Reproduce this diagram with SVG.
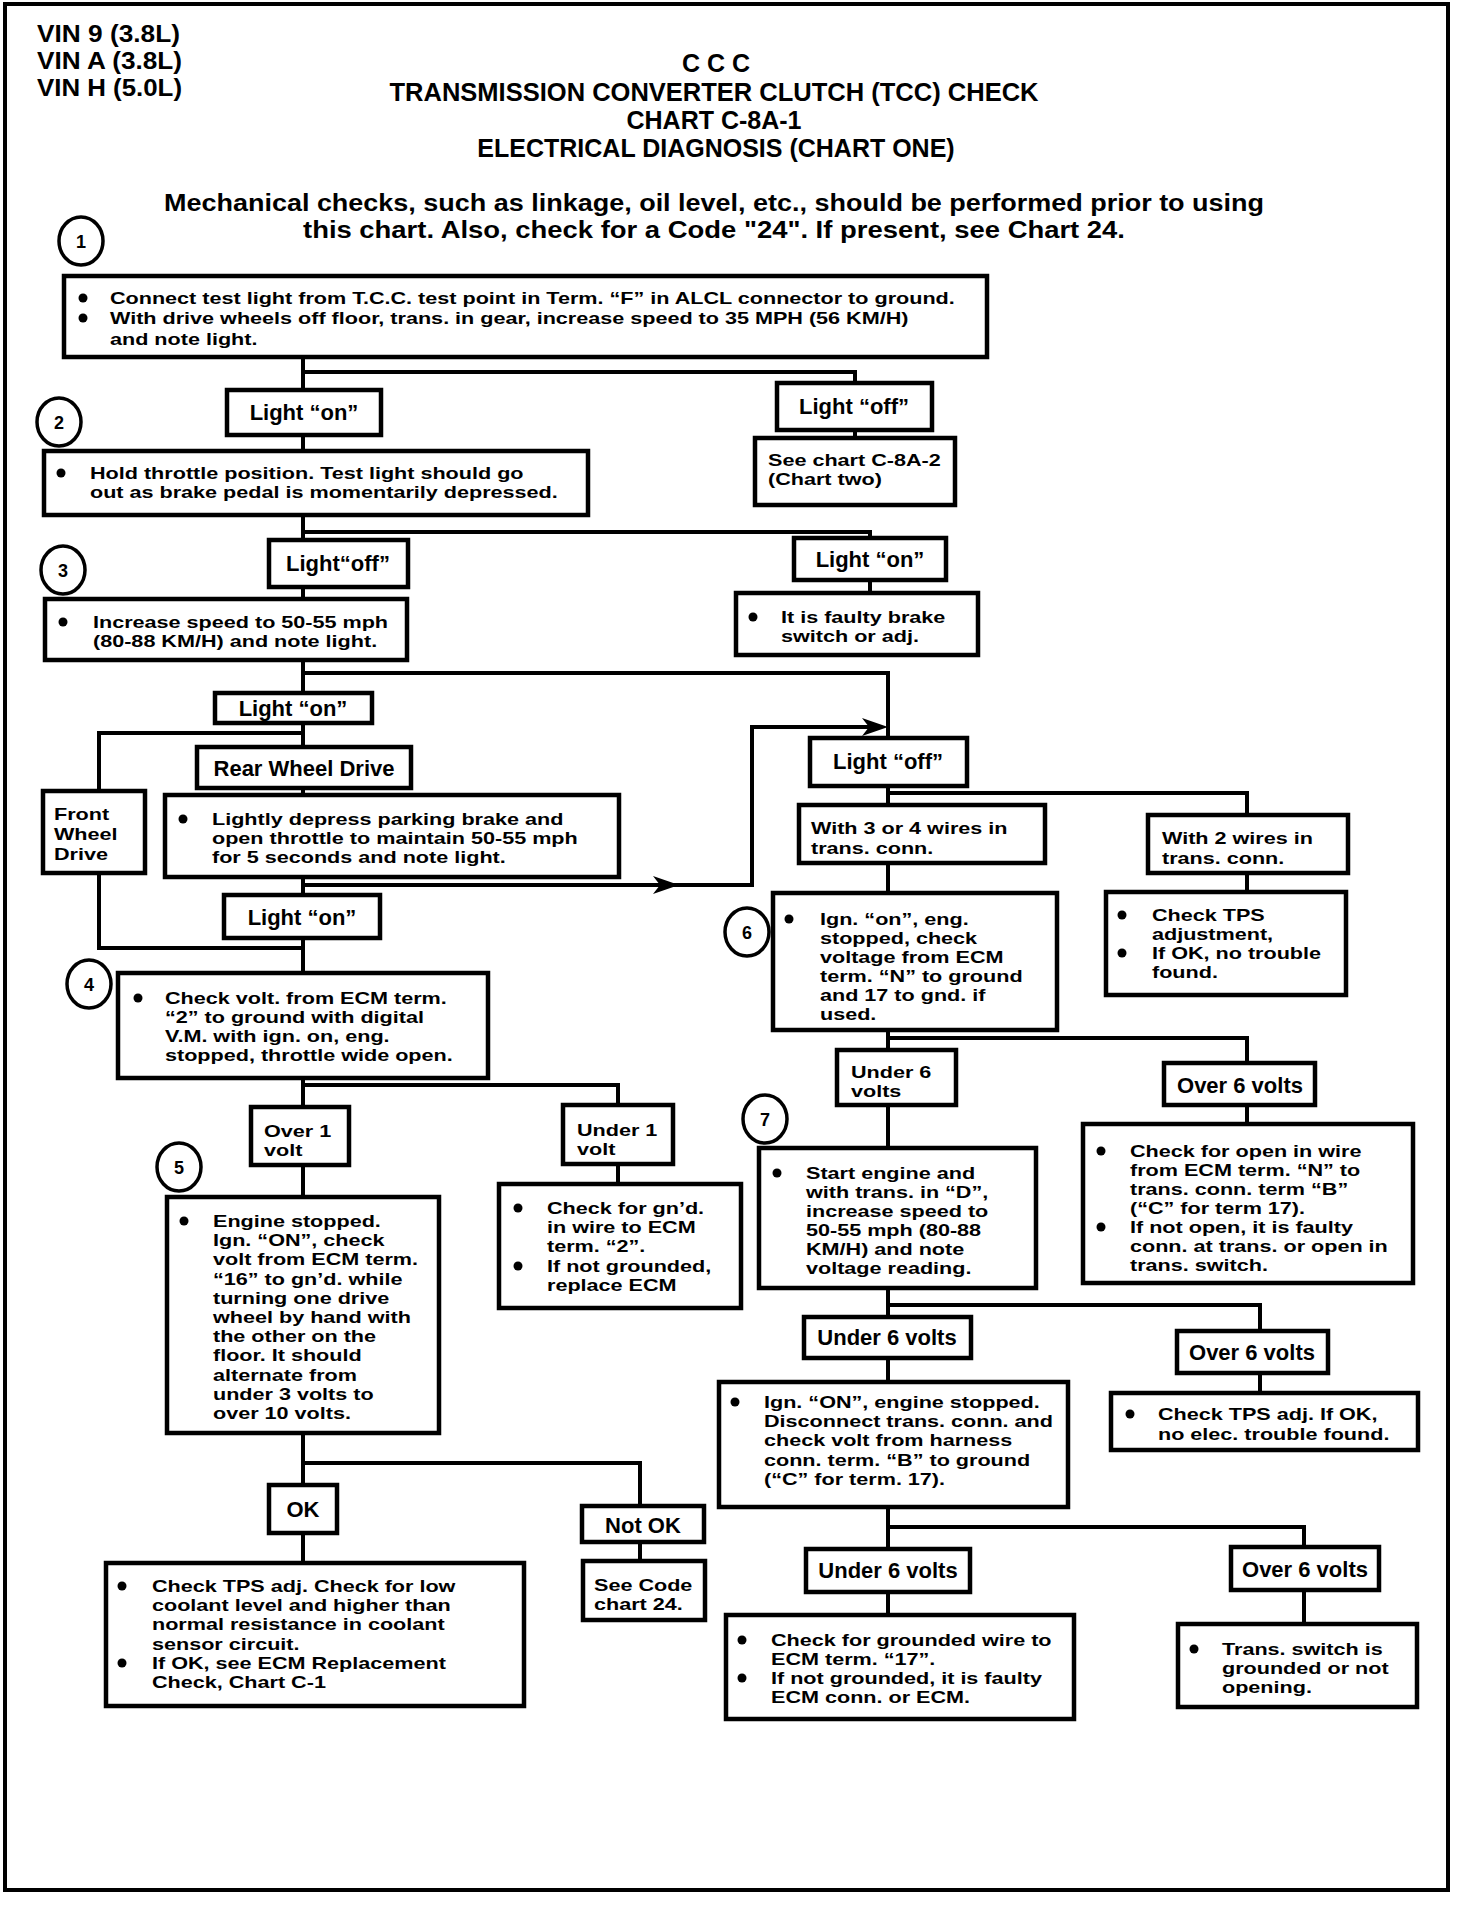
<svg xmlns="http://www.w3.org/2000/svg" width="1472" height="1914" viewBox="0 0 1472 1914">
<style>
.bg{fill:#fff}
.frame{fill:none;stroke:#000;stroke-width:4}
.box{fill:#fff;stroke:#000;stroke-width:4.5}
.ln{fill:none;stroke:#000;stroke-width:4}
.circ{fill:#fff;stroke:#000;stroke-width:3.5}
.t{font-family:"Liberation Sans",Arial,sans-serif;font-weight:bold;font-size:17px;fill:#000}
.lb{font-family:"Liberation Sans",Arial,sans-serif;font-weight:bold;font-size:22px;fill:#000;text-anchor:middle}
.h{font-family:"Liberation Sans",Arial,sans-serif;font-weight:bold;font-size:25px;fill:#000}
.v{font-family:"Liberation Sans",Arial,sans-serif;font-weight:bold;font-size:23.5px;fill:#000}
.c{text-anchor:middle}
.m{font-family:"Liberation Sans",Arial,sans-serif;font-weight:bold;font-size:23px;fill:#000;text-anchor:middle}
.n{font-family:"Liberation Sans",Arial,sans-serif;font-weight:bold;font-size:18px;fill:#000;text-anchor:middle}
.b{fill:#000}
</style>
<defs>
<marker id="arr" markerUnits="userSpaceOnUse" viewBox="0 0 26 18" markerWidth="26" markerHeight="18" refX="16" refY="9" orient="auto">
<path d="M0,0 L26,9 L0,18 L7,9 Z" fill="#000"/>
</marker>
</defs>
<rect class="bg" x="0" y="0" width="1472" height="1914"/>
<rect class="frame" x="5" y="4" width="1443" height="1886"/>

<g id="header">
<text class="v" x="37" y="42" textLength="143" lengthAdjust="spacingAndGlyphs">VIN 9 (3.8L)</text>
<text class="v" x="37" y="69" textLength="145" lengthAdjust="spacingAndGlyphs">VIN A (3.8L)</text>
<text class="v" x="37" y="96" textLength="145" lengthAdjust="spacingAndGlyphs">VIN H (5.0L)</text>
<text class="h c" x="716" y="72">C C C</text>
<text class="h c" x="714" y="101" textLength="649" lengthAdjust="spacingAndGlyphs">TRANSMISSION CONVERTER CLUTCH (TCC) CHECK</text>
<text class="h c" x="714" y="129">CHART C-8A-1</text>
<text class="h c" x="716" y="157">ELECTRICAL DIAGNOSIS (CHART ONE)</text>
<text class="m" x="714" y="211" textLength="1100" lengthAdjust="spacingAndGlyphs">Mechanical checks, such as linkage, oil level, etc., should be performed prior to using</text>
<text class="m" x="714" y="238" textLength="822" lengthAdjust="spacingAndGlyphs">this chart.  Also, check for a Code "24".  If present, see Chart 24.</text>
</g>

<g id="connectors">
<path class="ln" d="M303,357 V390 M303,372 H855 V383"/>
<path class="ln" d="M855,430 V438"/>
<path class="ln" d="M303,435 V451"/>
<path class="ln" d="M303,515 V540 M303,532 H870 V538"/>
<path class="ln" d="M870,580 V593"/>
<path class="ln" d="M303,587 V599"/>
<path class="ln" d="M303,660 V693 M303,673 H888 V738"/>
<path class="ln" d="M303,723 V747 M303,733 H99 V791"/>
<path class="ln" d="M303,788 V795"/>
<path class="ln" d="M303,877 V895"/>
<path class="ln" d="M303,885 H669" marker-end="url(#arr)"/>
<path class="ln" d="M669,885 H752 V727 H878" marker-end="url(#arr)"/>
<path class="ln" d="M99,873 V948 H303"/>
<path class="ln" d="M303,938 V973"/>
<path class="ln" d="M303,1078 V1107 M303,1085 H618 V1105"/>
<path class="ln" d="M618,1164 V1184"/>
<path class="ln" d="M303,1165 V1197"/>
<path class="ln" d="M303,1433 V1485 M303,1463 H640 V1506"/>
<path class="ln" d="M303,1533 V1563"/>
<path class="ln" d="M640,1542 V1561"/>
<path class="ln" d="M888,786 V805 M888,793 H1247 V815"/>
<path class="ln" d="M1247,873 V892"/>
<path class="ln" d="M888,863 V893"/>
<path class="ln" d="M888,1030 V1050 M888,1038 H1247 V1063"/>
<path class="ln" d="M888,1105 V1148"/>
<path class="ln" d="M1247,1105 V1124"/>
<path class="ln" d="M888,1288 V1317 M888,1305 H1260 V1331"/>
<path class="ln" d="M1260,1373 V1393"/>
<path class="ln" d="M888,1358 V1382"/>
<path class="ln" d="M888,1507 V1549 M888,1527 H1304 V1547"/>
<path class="ln" d="M888,1592 V1615"/>
<path class="ln" d="M1304,1590 V1624"/>
</g>

<g id="step1">
<ellipse class="circ" cx="81" cy="241" rx="22" ry="24"/>
<text class="n" x="81" y="248">1</text>
</g>
<g id="box1">
<rect class="box" x="64" y="276" width="923" height="81"/>
<circle class="b" cx="83" cy="298" r="4.5"/><circle class="b" cx="83" cy="318" r="4.5"/>
<g transform="matrix(1.27,0,0,1,-29.7,0)">
<text class="t" x="110" y="304">Connect test light from T.C.C. test point in Term.  “F” in ALCL connector to ground.</text>
<text class="t" x="110" y="324">With drive wheels off floor, trans. in gear, increase speed to 35 MPH (56 KM/H)</text>
<text class="t" x="110" y="345">and note light.</text>
</g>
</g>
<g id="light-on-1">
<rect class="box" x="227" y="390" width="154" height="45"/>
<text class="lb" x="304" y="420">Light “on”</text>
</g>
<g id="light-off-1">
<rect class="box" x="777" y="383" width="155" height="47"/>
<text class="lb" x="854" y="414">Light “off”</text>
</g>
<g id="see-chart-c8a2">
<rect class="box" x="755" y="438" width="200" height="67"/>
<g transform="matrix(1.27,0,0,1,-207.36,0)">
<text class="t" x="768" y="466">See chart C-8A-2</text>
<text class="t" x="768" y="485">(Chart two)</text>
</g>
</g>
<g id="step2">
<ellipse class="circ" cx="59" cy="422" rx="22" ry="24"/>
<text class="n" x="59" y="429">2</text>
</g>
<g id="box2">
<rect class="box" x="44" y="451" width="544" height="64"/>
<circle class="b" cx="61" cy="473" r="4.5"/>
<g transform="matrix(1.27,0,0,1,-24.3,0)">
<text class="t" x="90" y="479">Hold throttle position.  Test light should go</text>
<text class="t" x="90" y="498">out as brake pedal is momentarily depressed.</text>
</g>
</g>
<g id="light-off-2">
<rect class="box" x="269" y="540" width="139" height="47"/>
<text class="lb" x="338" y="571">Light“off”</text>
</g>
<g id="light-on-2">
<rect class="box" x="794" y="538" width="152" height="42"/>
<text class="lb" x="870" y="567">Light “on”</text>
</g>
<g id="faulty-brake">
<rect class="box" x="736" y="593" width="242" height="62"/>
<circle class="b" cx="753" cy="617" r="4.5"/>
<g transform="matrix(1.27,0,0,1,-210.87,0)">
<text class="t" x="781" y="623">It is faulty brake</text>
<text class="t" x="781" y="642">switch or adj.</text>
</g>
</g>
<g id="step3">
<ellipse class="circ" cx="63" cy="570" rx="22" ry="24"/>
<text class="n" x="63" y="577">3</text>
</g>
<g id="box3">
<rect class="box" x="45" y="599" width="362" height="61"/>
<circle class="b" cx="63" cy="622" r="4.5"/>
<g transform="matrix(1.27,0,0,1,-25.11,0)">
<text class="t" x="93" y="628">Increase speed to 50-55 mph</text>
<text class="t" x="93" y="647">(80-88 KM/H) and note light.</text>
</g>
</g>
<g id="light-on-3">
<rect class="box" x="215" y="693" width="157" height="30"/>
<text class="lb" x="293" y="716">Light “on”</text>
</g>
<g id="rear-wheel-drive">
<rect class="box" x="197" y="747" width="214" height="41"/>
<text class="lb" x="304" y="776">Rear Wheel Drive</text>
</g>
<g id="front-wheel-drive">
<rect class="box" x="43" y="791" width="102" height="82"/>
<g transform="matrix(1.27,0,0,1,-14.58,0)">
<text class="t" x="54" y="820">Front</text>
<text class="t" x="54" y="840">Wheel</text>
<text class="t" x="54" y="860">Drive</text>
</g>
</g>
<g id="parking-brake">
<rect class="box" x="165" y="795" width="454" height="82"/>
<circle class="b" cx="183" cy="819" r="4.5"/>
<g transform="matrix(1.27,0,0,1,-57.24,0)">
<text class="t" x="212" y="825">Lightly depress parking brake and</text>
<text class="t" x="212" y="844">open throttle to maintain 50-55 mph</text>
<text class="t" x="212" y="863">for 5 seconds and note light.</text>
</g>
</g>
<g id="light-on-4">
<rect class="box" x="224" y="895" width="156" height="43"/>
<text class="lb" x="302" y="925">Light “on”</text>
</g>
<g id="step4">
<ellipse class="circ" cx="89" cy="984" rx="22" ry="24"/>
<text class="n" x="89" y="991">4</text>
</g>
<g id="box4">
<rect class="box" x="118" y="973" width="370" height="105"/>
<circle class="b" cx="138" cy="998" r="4.5"/>
<g transform="matrix(1.27,0,0,1,-44.55,0)">
<text class="t" x="165" y="1004">Check volt. from ECM term.</text>
<text class="t" x="165" y="1023">“2” to ground with digital</text>
<text class="t" x="165" y="1042">V.M. with ign. on, eng.</text>
<text class="t" x="165" y="1061">stopped, throttle wide open.</text>
</g>
</g>
<g id="over-1-volt">
<rect class="box" x="251" y="1107" width="98" height="58"/>
<g transform="matrix(1.27,0,0,1,-71.28,0)">
<text class="t" x="264" y="1137">Over 1</text>
<text class="t" x="264" y="1156">volt</text>
</g>
</g>
<g id="under-1-volt">
<rect class="box" x="563" y="1105" width="110" height="59"/>
<g transform="matrix(1.27,0,0,1,-155.79,0)">
<text class="t" x="577" y="1136">Under 1</text>
<text class="t" x="577" y="1155">volt</text>
</g>
</g>
<g id="step5">
<ellipse class="circ" cx="179" cy="1167" rx="22" ry="24"/>
<text class="n" x="179" y="1174">5</text>
</g>
<g id="box5">
<rect class="box" x="167" y="1197" width="272" height="236"/>
<circle class="b" cx="184" cy="1221" r="4.5"/>
<g transform="matrix(1.27,0,0,1,-57.51,0)">
<text class="t" x="213" y="1227">Engine stopped.</text>
<text class="t" x="213" y="1246.2">Ign. “ON”, check</text>
<text class="t" x="213" y="1265.4">volt from ECM term.</text>
<text class="t" x="213" y="1284.6">“16” to gn’d.  while</text>
<text class="t" x="213" y="1303.8">turning one drive</text>
<text class="t" x="213" y="1323">wheel by hand with</text>
<text class="t" x="213" y="1342.2">the other on the</text>
<text class="t" x="213" y="1361.4">floor.  It should</text>
<text class="t" x="213" y="1380.6">alternate from</text>
<text class="t" x="213" y="1399.8">under 3 volts to</text>
<text class="t" x="213" y="1419">over 10 volts.</text>
</g>
</g>
<g id="check-gnd-ecm2">
<rect class="box" x="499" y="1184" width="242" height="124"/>
<circle class="b" cx="518" cy="1208" r="4.5"/><circle class="b" cx="518" cy="1266" r="4.5"/>
<g transform="matrix(1.27,0,0,1,-147.69,0)">
<text class="t" x="547" y="1214">Check for gn’d.</text>
<text class="t" x="547" y="1233">in wire to ECM</text>
<text class="t" x="547" y="1252.5">term. “2”.</text>
<text class="t" x="547" y="1272">If not grounded,</text>
<text class="t" x="547" y="1291">replace ECM</text>
</g>
</g>
<g id="ok">
<rect class="box" x="269" y="1485" width="68" height="48"/>
<text class="lb" x="303" y="1517">OK</text>
</g>
<g id="not-ok">
<rect class="box" x="582" y="1506" width="122" height="36"/>
<text class="lb" x="643" y="1533">Not OK</text>
</g>
<g id="check-coolant">
<rect class="box" x="106" y="1563" width="418" height="143"/>
<circle class="b" cx="122" cy="1586" r="4.5"/><circle class="b" cx="122" cy="1663" r="4.5"/>
<g transform="matrix(1.27,0,0,1,-41.04,0)">
<text class="t" x="152" y="1592">Check TPS adj.  Check for low</text>
<text class="t" x="152" y="1611">coolant level and higher than</text>
<text class="t" x="152" y="1630">normal resistance in coolant</text>
<text class="t" x="152" y="1650">sensor circuit.</text>
<text class="t" x="152" y="1669">If OK, see ECM Replacement</text>
<text class="t" x="152" y="1688">Check, Chart C-1</text>
</g>
</g>
<g id="see-code-24">
<rect class="box" x="583" y="1561" width="122" height="59"/>
<g transform="matrix(1.27,0,0,1,-160.38,0)">
<text class="t" x="594" y="1591">See Code</text>
<text class="t" x="594" y="1610">chart 24.</text>
</g>
</g>

<g id="light-off-5">
<rect class="box" x="810" y="738" width="157" height="48"/>
<text class="lb" x="888" y="769">Light “off”</text>
</g>
<g id="wires-3-4">
<rect class="box" x="799" y="805" width="246" height="58"/>
<g transform="matrix(1.27,0,0,1,-218.97,0)">
<text class="t" x="811" y="834">With 3 or 4 wires in</text>
<text class="t" x="811" y="854">trans. conn.</text>
</g>
</g>
<g id="wires-2">
<rect class="box" x="1148" y="815" width="200" height="58"/>
<g transform="matrix(1.27,0,0,1,-313.74,0)">
<text class="t" x="1162" y="844">With 2 wires in</text>
<text class="t" x="1162" y="864">trans. conn.</text>
</g>
</g>
<g id="check-tps-adjustment">
<rect class="box" x="1106" y="892" width="240" height="103"/>
<circle class="b" cx="1122" cy="915" r="4.5"/><circle class="b" cx="1122" cy="953" r="4.5"/>
<g transform="matrix(1.27,0,0,1,-311.04,0)">
<text class="t" x="1152" y="921">Check TPS</text>
<text class="t" x="1152" y="940">adjustment,</text>
<text class="t" x="1152" y="959">If OK, no trouble</text>
<text class="t" x="1152" y="978">found.</text>
</g>
</g>
<g id="step6">
<ellipse class="circ" cx="747" cy="932" rx="22" ry="24"/>
<text class="n" x="747" y="939">6</text>
</g>
<g id="box6">
<rect class="box" x="773" y="893" width="284" height="137"/>
<circle class="b" cx="789" cy="919" r="4.5"/>
<g transform="matrix(1.27,0,0,1,-221.4,0)">
<text class="t" x="820" y="925">Ign. “on”, eng.</text>
<text class="t" x="820" y="944">stopped, check</text>
<text class="t" x="820" y="963">voltage from ECM</text>
<text class="t" x="820" y="982">term.  “N” to ground</text>
<text class="t" x="820" y="1001">and 17 to gnd. if</text>
<text class="t" x="820" y="1020">used.</text>
</g>
</g>
<g id="under-6-volts-a">
<rect class="box" x="837" y="1050" width="119" height="55"/>
<g transform="matrix(1.27,0,0,1,-229.77,0)">
<text class="t" x="851" y="1078">Under 6</text>
<text class="t" x="851" y="1097">volts</text>
</g>
</g>
<g id="over-6-volts-a">
<rect class="box" x="1164" y="1063" width="151" height="42"/>
<text class="lb" x="1240" y="1093">Over 6 volts</text>
</g>
<g id="step7">
<ellipse class="circ" cx="765" cy="1119" rx="22" ry="24"/>
<text class="n" x="765" y="1126">7</text>
</g>
<g id="box7">
<rect class="box" x="759" y="1148" width="277" height="140"/>
<circle class="b" cx="777" cy="1173" r="4.5"/>
<g transform="matrix(1.27,0,0,1,-217.62,0)">
<text class="t" x="806" y="1179">Start engine and</text>
<text class="t" x="806" y="1198">with trans. in “D”,</text>
<text class="t" x="806" y="1217">increase speed to</text>
<text class="t" x="806" y="1236">50-55 mph (80-88</text>
<text class="t" x="806" y="1255">KM/H) and note</text>
<text class="t" x="806" y="1274">voltage reading.</text>
</g>
</g>
<g id="check-open-wire">
<rect class="box" x="1083" y="1124" width="330" height="159"/>
<circle class="b" cx="1101" cy="1151" r="4.5"/><circle class="b" cx="1101" cy="1227" r="4.5"/>
<g transform="matrix(1.27,0,0,1,-305.1,0)">
<text class="t" x="1130" y="1157">Check for open in wire</text>
<text class="t" x="1130" y="1176">from ECM term. “N” to</text>
<text class="t" x="1130" y="1195">trans. conn. term  “B”</text>
<text class="t" x="1130" y="1214">(“C” for term 17).</text>
<text class="t" x="1130" y="1233">If not open, it is faulty</text>
<text class="t" x="1130" y="1252">conn. at trans. or open in</text>
<text class="t" x="1130" y="1271">trans. switch.</text>
</g>
</g>
<g id="under-6-volts-b">
<rect class="box" x="804" y="1317" width="167" height="41"/>
<text class="lb" x="887" y="1345">Under 6 volts</text>
</g>
<g id="over-6-volts-b">
<rect class="box" x="1177" y="1331" width="151" height="42"/>
<text class="lb" x="1252" y="1360">Over 6 volts</text>
</g>
<g id="tps-no-elec">
<rect class="box" x="1111" y="1393" width="307" height="57"/>
<circle class="b" cx="1130" cy="1414" r="4.5"/>
<g transform="matrix(1.27,0,0,1,-312.66,0)">
<text class="t" x="1158" y="1420">Check TPS adj.  If OK,</text>
<text class="t" x="1158" y="1440">no elec. trouble found.</text>
</g>
</g>
<g id="box8">
<rect class="box" x="719" y="1382" width="349" height="125"/>
<circle class="b" cx="735" cy="1402" r="4.5"/>
<g transform="matrix(1.27,0,0,1,-206.28,0)">
<text class="t" x="764" y="1408">Ign. “ON”, engine stopped.</text>
<text class="t" x="764" y="1427">Disconnect trans. conn. and</text>
<text class="t" x="764" y="1446">check volt from harness</text>
<text class="t" x="764" y="1466">conn. term. “B” to ground</text>
<text class="t" x="764" y="1485">(“C” for term. 17).</text>
</g>
</g>
<g id="under-6-volts-c">
<rect class="box" x="806" y="1549" width="164" height="43"/>
<text class="lb" x="888" y="1578">Under 6 volts</text>
</g>
<g id="over-6-volts-c">
<rect class="box" x="1231" y="1547" width="148" height="43"/>
<text class="lb" x="1305" y="1577">Over 6 volts</text>
</g>
<g id="grounded-wire-17">
<rect class="box" x="726" y="1615" width="348" height="104"/>
<circle class="b" cx="742" cy="1640" r="4.5"/><circle class="b" cx="742" cy="1678" r="4.5"/>
<g transform="matrix(1.27,0,0,1,-208.17,0)">
<text class="t" x="771" y="1646">Check for grounded wire to</text>
<text class="t" x="771" y="1665">ECM term. “17”.</text>
<text class="t" x="771" y="1684">If not grounded, it is faulty</text>
<text class="t" x="771" y="1703">ECM conn. or ECM.</text>
</g>
</g>
<g id="trans-switch">
<rect class="box" x="1178" y="1624" width="239" height="83"/>
<circle class="b" cx="1194" cy="1649" r="4.5"/>
<g transform="matrix(1.27,0,0,1,-329.94,0)">
<text class="t" x="1222" y="1655">Trans. switch is</text>
<text class="t" x="1222" y="1674">grounded or not</text>
<text class="t" x="1222" y="1693">opening.</text>
</g>
</g>
</svg>
